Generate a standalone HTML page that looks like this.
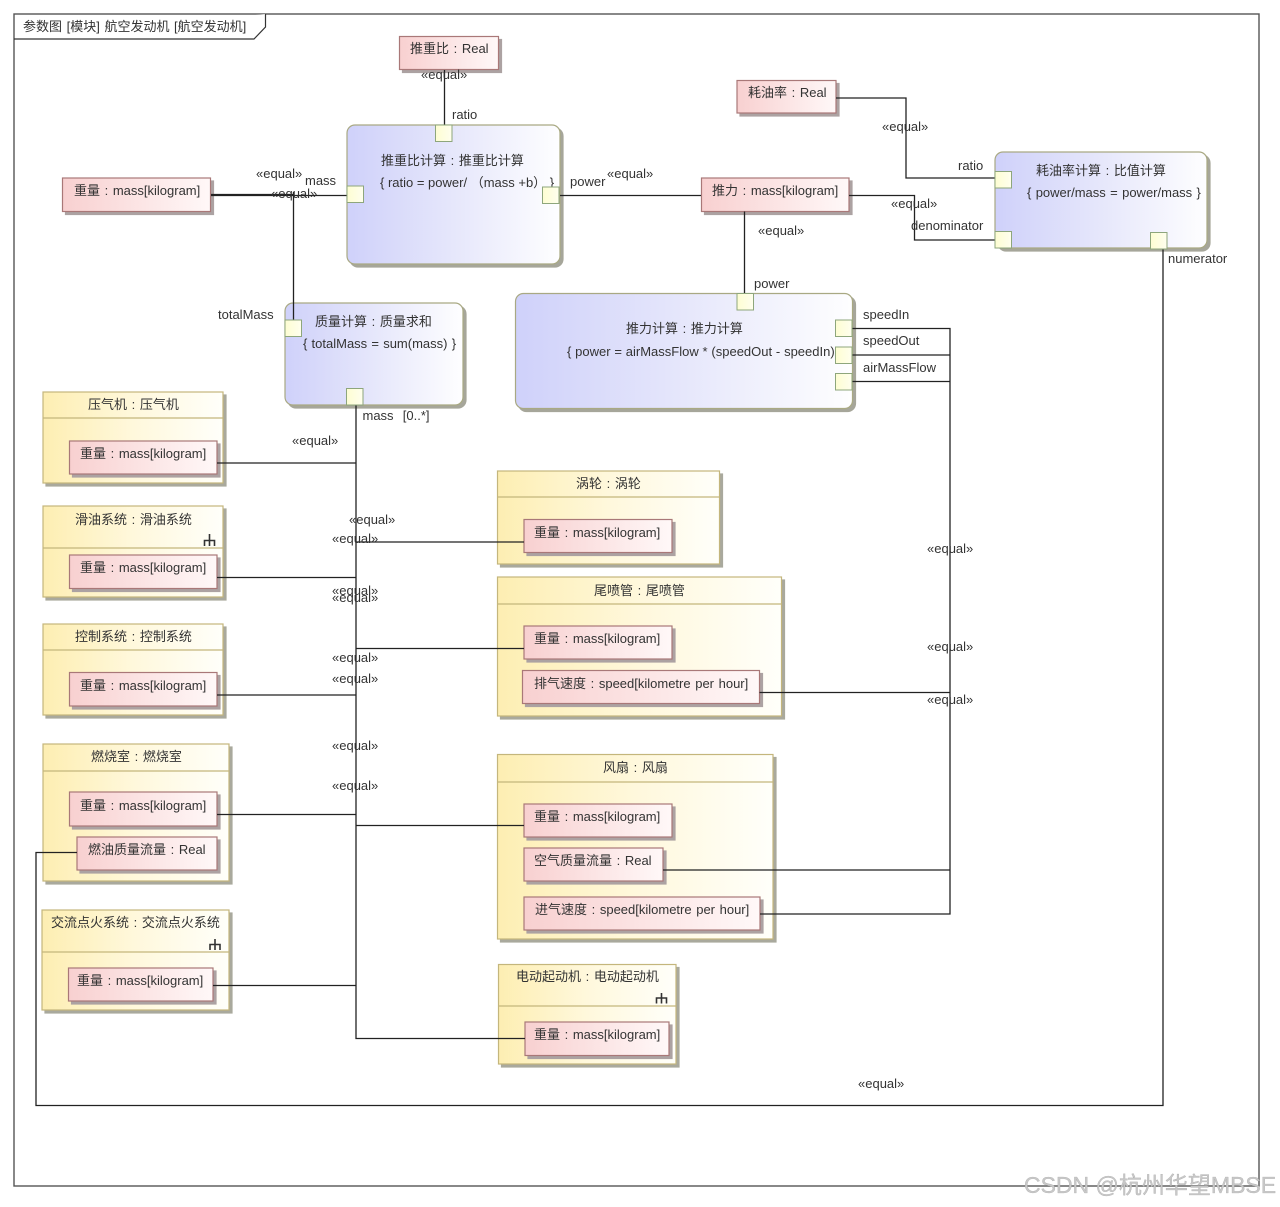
<!DOCTYPE html>
<html lang="zh">
<head>
<meta charset="utf-8">
<title>参数图 航空发动机</title>
<style>
html,body{margin:0;padding:0;background:#fff;width:1280px;height:1207px;overflow:hidden}
svg{display:block;filter:blur(.3px)}
text{font-family:"Liberation Sans","Noto Sans CJK SC",sans-serif;font-size:13px;fill:#333;word-spacing:1px}
.y{fill:url(#gy);stroke:#c4b67c;stroke-width:1.2;filter:drop-shadow(3px 3px 0 #a9a99d)}
.r{fill:url(#gr);stroke:#a97878;stroke-width:1.2;filter:drop-shadow(3px 3px 0 #aca2a2)}
.b{fill:url(#gb);stroke:#a9a983;stroke-width:1.2;filter:drop-shadow(3px 3px 0 #a6a69a)}
.p{fill:url(#gp);stroke:#8ea67c;stroke-width:1}
.d{stroke:#c4b67c;stroke-width:1.2}
.l{fill:none;stroke:#222;stroke-width:1.3}
.i{fill:none;stroke:#333;stroke-width:1.6}
.w{font-size:23px;fill:#c8c8c8;stroke:#aaa;stroke-width:.3;word-spacing:0}
</style>
</head>
<body>
<svg width="1280" height="1207" viewBox="0 0 1280 1207" xmlns="http://www.w3.org/2000/svg">
<defs>
<linearGradient id="gy"><stop offset="0" stop-color="#fdeeb2"/><stop offset=".5" stop-color="#fff8dc"/><stop offset="1" stop-color="#fffffa"/></linearGradient>
<linearGradient id="gr"><stop offset="0" stop-color="#f8d0d0"/><stop offset="1" stop-color="#fff8f8"/></linearGradient>
<linearGradient id="gb"><stop offset="0" stop-color="#cfd1fa"/><stop offset=".5" stop-color="#e6e7fb"/><stop offset="1" stop-color="#fefeff"/></linearGradient>
<linearGradient id="gp"><stop offset="0" stop-color="#fdfdd2"/><stop offset="1" stop-color="#ffffee"/></linearGradient>
</defs>
<rect width="1280" height="1207" fill="#fff"/>

<!-- frame -->
<rect x="14" y="14" width="1245" height="1172" fill="none" stroke="#555" stroke-width="1.4"/>
<path d="M14 39H254L265.500 27V14" fill="#fff" stroke="#333" stroke-width="1.2"/>
<text x="23" y="31">参数图 [模块] 航空发动机 [航空发动机]</text>

<!-- yellow parts -->
<rect class="y" x="43" y="392" width="180" height="91"/><line class="d" x1="43" y1="418" x2="223" y2="418"/>
<rect class="y" x="43" y="506" width="180" height="91"/><line class="d" x1="43" y1="548" x2="223" y2="548"/>
<rect class="y" x="43" y="624" width="180" height="91"/><line class="d" x1="43" y1="650" x2="223" y2="650"/>
<rect class="y" x="43" y="744" width="186" height="137"/><line class="d" x1="43" y1="771" x2="229" y2="771"/>
<rect class="y" x="42" y="910" width="187" height="100"/><line class="d" x1="42" y1="952" x2="229" y2="952"/>
<rect class="y" x="497.500" y="471" width="222" height="93"/><line class="d" x1="497.500" y1="497" x2="719.500" y2="497"/>
<rect class="y" x="497.500" y="577" width="284" height="139"/><line class="d" x1="497.500" y1="604" x2="781.500" y2="604"/>
<rect class="y" x="497.500" y="754.500" width="275.500" height="184.500"/><line class="d" x1="497.500" y1="782" x2="773" y2="782"/>
<rect class="y" x="498.500" y="964.500" width="177.500" height="99.500"/><line class="d" x1="498.500" y1="1006" x2="676" y2="1006"/>

<!-- constraint blocks -->
<rect class="b" x="347" y="125" width="213" height="139" rx="8"/>
<rect class="b" x="285" y="303" width="178" height="102" rx="8"/>
<rect class="b" x="515.500" y="293.500" width="337" height="115" rx="8"/>
<rect class="b" x="995" y="152" width="212" height="96" rx="8"/>

<!-- value blocks -->
<rect class="r" x="399.500" y="36.500" width="99" height="33"/>
<rect class="r" x="62.500" y="178" width="148" height="33.500"/>
<rect class="r" x="737" y="80.500" width="99" height="32.500"/>
<rect class="r" x="701.500" y="178" width="147.500" height="33.500"/>
<rect class="r" x="69.500" y="441" width="147.500" height="33"/>
<rect class="r" x="69.500" y="555" width="147.500" height="33.500"/>
<rect class="r" x="69.500" y="672.500" width="147.500" height="33.500"/>
<rect class="r" x="69.500" y="792" width="147.500" height="34"/>
<rect class="r" x="77" y="837" width="140" height="33"/>
<rect class="r" x="68.500" y="968" width="144.500" height="33"/>
<rect class="r" x="524" y="519.500" width="148" height="33"/>
<rect class="r" x="524" y="626" width="148" height="33"/>
<rect class="r" x="522.500" y="670.500" width="237" height="33"/>
<rect class="r" x="524" y="804" width="148" height="33"/>
<rect class="r" x="524" y="848" width="139" height="33"/>
<rect class="r" x="524" y="897" width="236" height="33"/>
<rect class="r" x="525" y="1022" width="144" height="33.500"/>

<!-- connectors -->
<path class="l" d="M444.500 70V125"/>
<path class="l" d="M211 195.500H347"/>
<path class="l" d="M211 194.500H293" stroke-width="1.6"/>
<path class="l" d="M293.500 192V320"/>
<path class="l" d="M560 195.500H701"/>
<path class="l" d="M744.500 211.500V293"/>
<path class="l" d="M836 98H906V178H995"/>
<path class="l" d="M849 195.500H914.500V240H995"/>
<path class="l" d="M852 328.500H950V914H760"/>
<path class="l" d="M852 355H950"/>
<path class="l" d="M852 381.500H950"/>
<path class="l" d="M759.500 692.500H950"/>
<path class="l" d="M663 870H950"/>
<path class="l" d="M1163 249V1105.500H36V852.500H77"/>
<path class="l" d="M356 405V1038.500H525"/>
<path class="l" d="M217 463H356"/>
<path class="l" d="M217 577.500H356"/>
<path class="l" d="M217 695H356"/>
<path class="l" d="M217 814.500H356"/>
<path class="l" d="M213 985.500H356"/>
<path class="l" d="M356 542H524"/>
<path class="l" d="M356 648.500H524"/>
<path class="l" d="M356 825.500H524"/>

<!-- decomposition icons -->
<path class="i" d="M209.500 534V546M204.500 546V540.500H214.500V546"/>
<path class="i" d="M215 939V950M210 950V944.500H220V950"/>
<path class="i" d="M661.500 993V1003.500M656.500 1003.500V998H666.500V1003.500"/>

<!-- part titles -->
<text x="88" y="409">压气机 : 压气机</text>
<text x="75" y="524">滑油系统 : 滑油系统</text>
<text x="75" y="641">控制系统 : 控制系统</text>
<text x="91" y="761">燃烧室 : 燃烧室</text>
<text x="51" y="927">交流点火系统 : 交流点火系统</text>
<text x="576" y="488">涡轮 : 涡轮</text>
<text x="594" y="595">尾喷管 : 尾喷管</text>
<text x="603" y="772">风扇 : 风扇</text>
<text x="516" y="981">电动起动机 : 电动起动机</text>

<!-- value labels -->
<text x="410" y="53">推重比 : Real</text>
<text x="74" y="195">重量 : mass[kilogram]</text>
<text x="748" y="97">耗油率 : Real</text>
<text x="712" y="195">推力 : mass[kilogram]</text>
<text x="80" y="458">重量 : mass[kilogram]</text>
<text x="80" y="572">重量 : mass[kilogram]</text>
<text x="80" y="690">重量 : mass[kilogram]</text>
<text x="80" y="810">重量 : mass[kilogram]</text>
<text x="88" y="854">燃油质量流量 : Real</text>
<text x="77" y="985">重量 : mass[kilogram]</text>
<text x="534" y="537">重量 : mass[kilogram]</text>
<text x="534" y="643">重量 : mass[kilogram]</text>
<text x="534" y="688">排气速度 : speed[kilometre per hour]</text>
<text x="534" y="821">重量 : mass[kilogram]</text>
<text x="534" y="865">空气质量流量 : Real</text>
<text x="535" y="914">进气速度 : speed[kilometre per hour]</text>
<text x="534" y="1039">重量 : mass[kilogram]</text>

<!-- constraint text -->
<text x="381" y="165">推重比计算 : 推重比计算</text>
<text x="380" y="187" style="word-spacing:0">{ ratio = power/ （mass +b） }</text>
<text x="315" y="326">质量计算 : 质量求和</text>
<text x="303" y="348" style="word-spacing:.6px">{ totalMass = sum(mass) }</text>
<text x="626" y="333">推力计算 : 推力计算</text>
<text x="567" y="356" style="word-spacing:.2px">{ power = airMassFlow * (speedOut - speedIn) }</text>
<text x="1036" y="175">耗油率计算 : 比值计算</text>
<text x="1027" y="197" style="word-spacing:.75px">{ power/mass = power/mass }</text>

<!-- port labels -->
<text x="452" y="119">ratio</text>
<text x="305" y="185">mass</text>
<text x="570" y="186">power</text>
<text x="218" y="319">totalMass</text>
<text x="362.500" y="420" style="white-space:pre">mass  [0..*]</text>
<text x="754" y="288">power</text>
<text x="863" y="319">speedIn</text>
<text x="863" y="345">speedOut</text>
<text x="863" y="372">airMassFlow</text>
<text x="958" y="170">ratio</text>
<text x="911" y="230">denominator</text>
<text x="1168" y="263">numerator</text>

<!-- equal labels -->
<text x="421" y="79">«equal»</text>
<text x="256" y="178">«equal»</text>
<text x="271" y="198">«equal»</text>
<text x="607" y="178">«equal»</text>
<text x="758" y="235">«equal»</text>
<text x="882" y="131">«equal»</text>
<text x="891" y="208">«equal»</text>
<text x="292" y="445">«equal»</text>
<text x="349" y="524">«equal»</text>
<text x="332" y="543">«equal»</text>
<text x="332" y="595">«equal»</text>
<text x="332" y="602">«equal»</text>
<text x="332" y="662">«equal»</text>
<text x="332" y="683">«equal»</text>
<text x="332" y="750">«equal»</text>
<text x="332" y="790">«equal»</text>
<text x="927" y="553">«equal»</text>
<text x="927" y="651">«equal»</text>
<text x="927" y="704">«equal»</text>
<text x="858" y="1088">«equal»</text>

<!-- ports (drawn over text, as in the reference) -->
<rect class="p" x="435.500" y="125" width="16.500" height="16.500"/>
<rect class="p" x="347" y="186" width="16.500" height="16.500"/>
<rect class="p" x="542.500" y="187" width="16.500" height="16.500"/>
<rect class="p" x="285" y="320" width="16.500" height="16.500"/>
<rect class="p" x="346.500" y="388.500" width="16.500" height="16.500"/>
<rect class="p" x="737" y="293.500" width="16.500" height="16.500"/>
<rect class="p" x="835.500" y="320" width="16.500" height="16.500"/>
<rect class="p" x="835.500" y="347" width="16.500" height="16.500"/>
<rect class="p" x="835.500" y="373.500" width="16.500" height="16.500"/>
<rect class="p" x="995" y="171.500" width="16.500" height="16.500"/>
<rect class="p" x="995" y="231.500" width="16.500" height="16.500"/>
<rect class="p" x="1150.500" y="232.500" width="16.500" height="16.500"/>

<!-- watermark -->
<text class="w" x="1024" y="1193">CSDN @杭州华望MBSE</text>
</svg>
</body>
</html>
